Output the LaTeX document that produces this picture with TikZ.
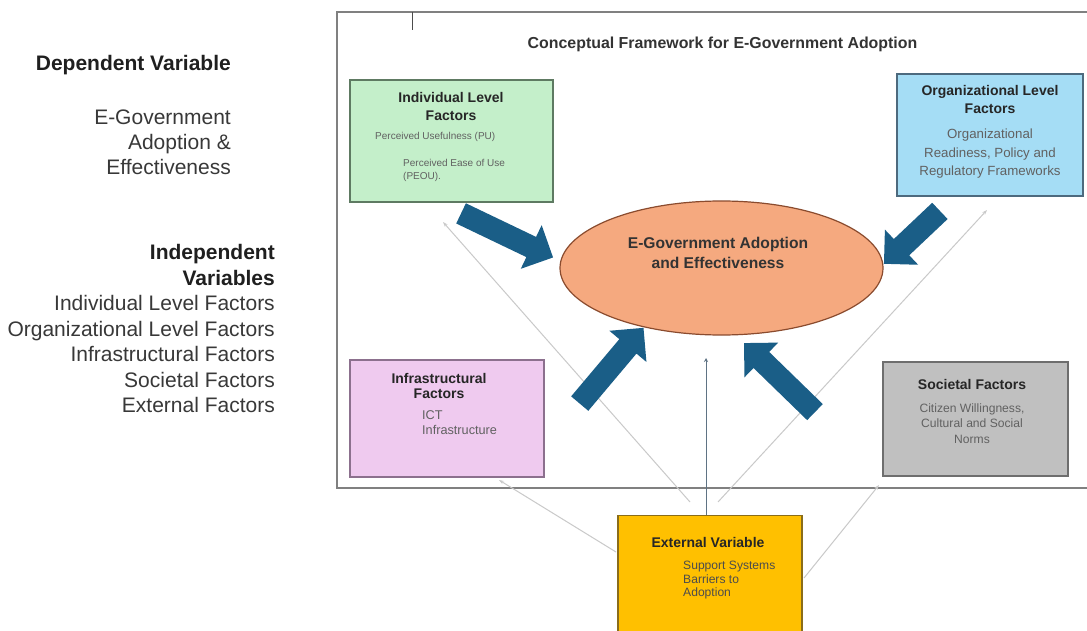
\documentclass[tikz,border=0pt]{standalone}
\usepackage{fontspec}
\setmainfont{Liberation Sans}
\usetikzlibrary{shapes.geometric,shapes.arrows,arrows.meta}
\definecolor{gfill}{HTML}{C4EFCA}
\definecolor{gdraw}{HTML}{5E7A62}
\definecolor{bfill}{HTML}{A5DDF5}
\definecolor{bdraw}{HTML}{4D6A7E}
\definecolor{pfill}{HTML}{EFCAEF}
\definecolor{pdraw}{HTML}{8C708E}
\definecolor{sfill}{HTML}{C0C0C0}
\definecolor{sdraw}{HTML}{6E6E6E}
\definecolor{yfill}{HTML}{FFC000}
\definecolor{ydraw}{HTML}{8A6D1A}
\definecolor{efill}{HTML}{F5A97F}
\definecolor{edraw}{HTML}{8A4B2E}
\definecolor{arrowblue}{HTML}{1A5E87}
\definecolor{thinc}{HTML}{C9C9C9}
\definecolor{vline}{HTML}{5F7384}
\definecolor{framec}{HTML}{808080}
\begin{document}
\begin{tikzpicture}[x=1pt,y=-1pt,
  fbox/.style={draw, line width=1.3pt, inner sep=0pt},
  ttl/.style={font=\bfseries\fontsize{14}{18}\selectfont, text=black!85, align=center, inner sep=0pt},
  bodytxt/.style={text=black!62, inner sep=0pt},
  lefttxt/.style={font=\fontsize{21}{25.5}\selectfont, text=black!78, align=right, inner sep=0pt, anchor=east},
  bigarrow/.style={single arrow, fill=arrowblue, draw=none,
    single arrow head extend=13pt, inner sep=0pt, single arrow tip angle=90},
  thinline/.style={draw=thinc, line width=1pt, -{Stealth[length=5pt,width=3.5pt]}}
]
\useasboundingbox (0,0) rectangle (1087,631);
\fill[white] (0,0) rectangle (1087,631);

% left column
\node[lefttxt, font=\bfseries\fontsize{21}{25}\selectfont, text=black!88] (dv) at (231,65) {Dependent Variable};
\node[lefttxt, font=\fontsize{21}{25}\selectfont] (dvt) at (231,142) {E-Government\\Adoption \&\\Effectiveness};
\node[lefttxt] (ivl) at (275,328.5) {\textbf{\color{black!88}Independent}\\\textbf{\color{black!88}Variables}\\Individual Level Factors\\Organizational Level Factors\\Infrastructural Factors\\Societal Factors\\External Factors};

% frame
\draw[framec, line width=1.5pt] (1090,12) -- (337,12) -- (337,488) -- (1090,488);
\draw[black!70, line width=1pt] (412,12) -- (412,30);
\node[font=\bfseries\fontsize{15.9}{18}\selectfont, text=black!80, inner sep=0pt] (title) at (722.5,44) {Conceptual Framework for E-Government Adoption};

% boxes
\node[fbox, fill=gfill, draw=gdraw, minimum width=203pt, minimum height=122pt] (ind) at (451.5,141) {};
\node[ttl] (indt) at (451,106) {Individual Level\\Factors};
\node[bodytxt, font=\fontsize{10}{13}\selectfont, anchor=west] (indb1) at (375,137) {Perceived Usefulness (PU)};
\node[bodytxt, font=\fontsize{10}{13}\selectfont, anchor=west, align=left] (indb2) at (403,170.5) {Perceived Ease of Use\\(PEOU).};

\node[fbox, fill=bfill, draw=bdraw, minimum width=186pt, minimum height=122pt] (org) at (990,135) {};
\node[ttl] (orgt) at (990,99.5) {Organizational Level\\Factors};
\node[bodytxt, font=\fontsize{13.3}{18.5}\selectfont, align=center] (orgb) at (990,154) {Organizational\\Readiness, Policy and\\Regulatory Frameworks};

\node[fbox, fill=pfill, draw=pdraw, minimum width=194pt, minimum height=117pt] (inf) at (447,418.5) {};
\node[ttl, font=\bfseries\fontsize{14}{15}\selectfont] (inft) at (439,385.5) {Infrastructural\\Factors};
\node[bodytxt, font=\fontsize{12.7}{15}\selectfont, anchor=west, align=left] (infb) at (422,422.5) {ICT\\Infrastructure};

\node[fbox, fill=sfill, draw=sdraw, minimum width=185pt, minimum height=114pt] (soc) at (975.5,419) {};
\node[ttl] (soct) at (972,384) {Societal Factors};
\node[bodytxt, font=\fontsize{12.1}{15.5}\selectfont, align=center] (socb) at (972,423.5) {Citizen Willingness,\\Cultural and Social\\Norms};

\node[fbox, fill=yfill, draw=ydraw, minimum width=184pt, minimum height=130pt, anchor=north] (ext) at (710,515) {};
\node[ttl] (extt) at (708,542) {External Variable};
\node[bodytxt, text=black!70, font=\fontsize{12.1}{13.5}\selectfont, anchor=west, align=left] (extb) at (683,580.5) {Support Systems\\Barriers to\\Adoption};

% central ellipse
\node[ellipse, fill=efill, draw=edraw, line width=1.2pt, minimum width=323pt, minimum height=134pt] (eg) at (721.5,268) {};
\node[font=\bfseries\fontsize{15.6}{20}\selectfont, text=black!80, align=center, inner sep=0pt] (egt) at (718,253) {E-Government Adoption\\and Effectiveness};

% thin connectors from the external variable
\coordinate (l1s) at (690,502);
\coordinate (l1e) at (443,222);
\coordinate (l2s) at (718,502);
\coordinate (l2e) at (987,210);
\coordinate (l3e) at (706,358);
\coordinate (l4s) at (616,552);
\coordinate (l4e) at (499,480);
\coordinate (l5s) at (804,578);
\coordinate (l5e) at (879,485);
\draw[thinline] (l1s) -- (l1e);
\draw[thinline] (l2s) -- (l2e);
\draw[thinline] (l4s) -- (l4e);
\draw[thinline] (l5s) -- (l5e);
\draw[vline, line width=1pt, -{Stealth[length=4pt,width=4pt]}] (ext.north -| l3e) -- (l3e);

% big block arrows
\node[bigarrow, minimum height=102pt, rotate=-25.6] (a1) at (502,233) {\rule{0pt}{22pt}};
\node[bigarrow, minimum height=77pt, rotate=-136.6] (a2) at (916,233.5) {\rule{0pt}{22pt}};
\node[bigarrow, minimum height=99pt, rotate=49.9] (a3) at (608,370) {\rule{0pt}{22pt}};
\node[bigarrow, minimum height=99pt, rotate=135.8] (a4) at (783.5,381.5) {\rule{0pt}{22pt}};
\end{tikzpicture}
\end{document}
